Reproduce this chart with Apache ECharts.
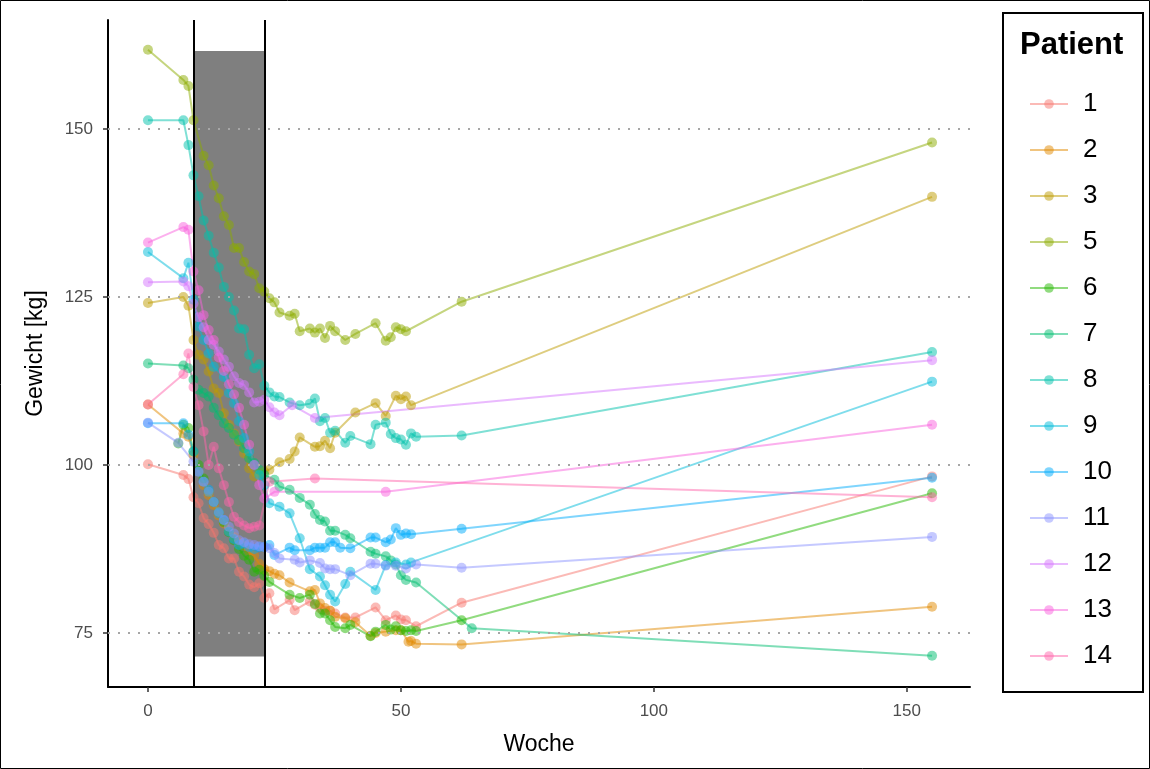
<!DOCTYPE html>
<html><head><meta charset="utf-8">
<script src="https://cdn.jsdelivr.net/npm/echarts@6/dist/echarts.min.js"></script>
<style>html,body{margin:0;padding:0;background:#fff}#c{width:1150px;height:769px}</style>
</head><body><div id="c"></div>
<script>
const patients = ['1','2','3','5','6','7','8','9','10','11','12','13','14'];
const colors = ['#F8766D','#E18A00','#BE9C00','#8CAB00','#24B700','#00BE70','#00C1AB','#00BBDA','#00ACFC','#8B93FF','#D575FE','#F962DD','#FF65AC'];

const p1 = [[0,100.1],[7,98.5],[8,97.9],[9,95.2],[10,94.3],[11,92.1],[12,91.2],[13,89.9],[14,88.1],[15,87.6],[16,86.1],[17,86.1],[18,84.1],[19,83.4],[20,82.2],[21,81.8],[22,82.4],[23,80.2],[24,80.9],[25,78.5],[28,79.9],[29,78.4],[32,79.7],[33,79.2],[34,78.7],[35,78.3],[36,78.3],[37,77.9],[39,77.3],[41,77.3],[45,78.8],[47,76.9],[49,77.6],[50,77.0],[51,76.9],[53,76],[62,79.5],[155,98.3]];
const p2 = [[0,109],[7,104.7],[8,104.2],[9,101.5],[10,99],[11,97],[12,95.5],[13,94],[14,92.5],[15,91.3],[16,90.2],[17,89.3],[18,88.5],[19,88],[20,87.2],[21,86.5],[22,85.3],[23,84.5],[24,84.2],[25,83.8],[26,83.6],[28,82.5],[32,81.2],[33,81.4],[34,79.4],[35,78.7],[36,78.3],[37,77.4],[39,77.2],[41,76.6],[44,74.6],[45,75],[47,75.2],[49,75.4],[50,75.4],[51.5,73.7],[52,73.8],[53,73.4],[62,73.3],[155,78.9]];
const p3 = [[0,124.1],[7,125],[8,123.7],[9,118.6],[10,116.4],[11,115.7],[12,113.9],[13,111.4],[14,110.7],[15,107.7],[16,106],[17,104.7],[18,103.5],[19,101.7],[20,99.5],[21,98.3],[22,98.8],[23,99],[24,99.3],[26,100.4],[28,100.9],[29,102],[30,104.1],[33,102.7],[34,102.8],[35,103.6],[36,102.5],[37,104.8],[41,107.8],[45,109.2],[47,107.3],[49,110.3],[50,109.8],[51,110.2],[52,108.9],[155,139.9]];
const p5 = [[0,161.8],[7,157.3],[8,156.4],[9,151.3],[11,146],[12,144.6],[13,141.6],[14,139.7],[15,137],[16,135.7],[17,132.3],[18,132.3],[19,130.2],[20,128.8],[21,128.4],[22,126.3],[23,125.8],[24,124.8],[25,124.2],[26,122.7],[28,122.2],[29,122.5],[30,119.9],[32,120.3],[33,119.7],[34,120.3],[35,118.9],[36,120.7],[37,119.9],[39,118.6],[41,119.5],[45,121.1],[47,118.5],[48,119],[49,120.5],[50,120.2],[51,119.9],[62,124.3],[155,148]];
const p6 = [[6,103.2],[7,106],[8,105.5],[9,102],[10,100],[11,98],[12,96],[13,94.5],[14,93],[15,91.5],[16,90],[17,88.8],[18,87.5],[19,86.5],[20,85.9],[21,84.1],[22,84.4],[23,83.5],[24,82.6],[28,80.7],[30,80.2],[32,80.7],[33,79.3],[34,77.9],[35,77.9],[36,76.9],[37,75.9],[39,75.7],[40,76.2],[44,74.5],[45,75.2],[47,76.2],[48,75.5],[49,76],[50,75.4],[51,75.3],[52,75.4],[53,75.3],[62,76.9],[155,95.8]];
const p7 = [[0,115.1],[7,114.8],[8,114.4],[9,112.7],[10,111.2],[11,110.7],[12,110.2],[13,108.5],[14,107.4],[15,106.2],[16,105.5],[17,104.5],[18,103.7],[19,102.5],[20,101],[21,100.3],[22,99.3],[23,98.5],[25,97.8],[26,96.8],[28,96.3],[30,95.1],[32,94.1],[33,92.7],[34,91.8],[35,91.6],[36,90.2],[37,90.2],[39,89.6],[40,89.1],[44,87.1],[45,86.8],[47,86.4],[48,85.8],[49,85.2],[50,83.6],[51,82.9],[53,82.5],[64,75.7],[155,71.6]];
const p8 = [[0,151.3],[7,151.3],[8,147.6],[9,143.1],[10,140],[11,136.4],[12,134.1],[13,131.6],[14,129.4],[15,126.5],[16,125],[17,123],[18,120.3],[19,120.2],[20,116.4],[21,114.4],[22,115],[23,111.8],[24,110.8],[25,110.2],[26,110.1],[28,109.3],[30,108.9],[32,109.1],[33,109.9],[34,106.5],[35,107],[36,104.8],[37,105.1],[39,103.3],[40,104.3],[44,103.1],[45,106],[47,106.3],[48,104.6],[49,104],[50,103.8],[51,103],[52,104.7],[53,104.2],[62,104.4],[155,116.8]];
const p9 = [[0,131.7],[7,127.8],[8,130.1],[9,124.6],[10,120.6],[11,118.6],[12,116.6],[13,114.6],[15,113.1],[16,110.7],[17,109.2],[18,106.5],[19,104],[20,102],[21,100],[22,98.5],[23,97],[24,94.3],[26,93.8],[28,92.8],[30,89.1],[32,84.5],[34,83.4],[35,82.1],[36,80.7],[37,79.7],[39,82.3],[40,84.1],[45,81.4],[47,85.1],[49,85.5],[51,85.2],[52,85.5],[155,112.4]];
const p10 = [[0,106.2],[7,106.2],[8,104.5],[9,102],[10,99],[11,97.5],[12,96.3],[13,94.5],[14,92.8],[15,91.8],[16,90.1],[17,89],[18,88.1],[19,88.3],[20,87.8],[21,87.5],[22,87.8],[23,87.8],[24,88.1],[25,86.6],[28,87.7],[29,87.3],[32,87.3],[33,87.7],[34,87.7],[35,87.7],[36,88.5],[37,88.5],[38,87.7],[40,87.6],[44,89.2],[45,89.2],[47,88.5],[48,88.9],[49,90.6],[50,89.6],[51,89.8],[52,89.7],[62,90.5],[155,98.1]];
const p11 = [[0,106.3],[6,103.3],[9,100.5],[10,99],[11,97.5],[12,96],[13,94.5],[14,93],[15,91.8],[16,90.8],[17,89.8],[18,88.8],[19,88.5],[20,88.2],[21,88.1],[22,87.9],[23,87.8],[24,87.6],[25,86.9],[26,86.1],[29,85.9],[30,85.5],[32,85.8],[34,85.4],[35,84.6],[36,84.5],[37,84.5],[40,83.6],[44,85.3],[45,85.3],[47,85.0],[49,85],[51,84.6],[53,85.2],[62,84.7],[155,89.3]];
const p12 = [[0,127.2],[7,127.3],[8,126.6],[9,124],[10,122],[11,120.5],[12,118.6],[13,117.9],[14,116.9],[15,115.7],[16,114.6],[17,113.2],[18,112.2],[19,111.9],[20,110.8],[21,109.3],[22,109.4],[23,109.7],[24,108.6],[25,107.8],[26,107.4],[28.5,108.9],[33,107],[155,115.6]];
const p13 = [[0,133.1],[7,135.4],[8,135],[9,128.8],[10,126],[11,122.3],[12,120.1],[13,118.6],[14,116],[15,114],[16,112],[17,110.5],[18,108.5],[19,106],[20,103],[21,100],[22,97],[23,95],[25,96],[47,96],[155,106]];
const p14 = [[0,109],[7,113.5],[8,116.6],[9,111.6],[10,108.9],[11,105],[12,100],[13,102.7],[14,99.5],[15,97],[16,94.5],[17,92.3],[18,91.5],[19,91],[20,90.6],[21,90.8],[22,91],[24,97.5],[33,98],[155,95.2]];

const xTicks = [0,50,100,150];
const yTicks = [75,100,125,150];
const dietWeeks = [9,23];
const bandKg = [71.5,161.6];

const allData = [p1,p2,p3,p5,p6,p7,p8,p9,p10,p11,p12,p13,p14];
const font = '"Liberation Sans", Arial, sans-serif';
const chart = echarts.init(document.getElementById('c'));

const series = [
  { type:'line', data:[], z:1, silent:true,
    markArea:{silent:true, itemStyle:{color:'#7F7F7F', opacity:1},
      data:[[{xAxis:dietWeeks[0], yAxis:bandKg[0]},{xAxis:dietWeeks[1], yAxis:bandKg[1]}]]} },
  { type:'line', data:[], z:2, silent:true,
    markLine:{silent:true, symbol:'none', label:{show:false}, animation:false,
      lineStyle:{color:'#A6A6A6', type:[2,8], width:2},
      data: yTicks.map(v=>({yAxis:v}))} },
  { type:'line', data:[], z:2, silent:true,
    markLine:{silent:true, symbol:'none', label:{show:false}, animation:false,
      lineStyle:{color:'#000', type:'solid', width:2},
      data: dietWeeks.map(v=>({xAxis:v}))} }
];
patients.forEach((p,i)=>{
  series.push({
    name:p, type:'line', data:allData[i], symbol:'circle', symbolSize:10, showSymbol:true, z:3,
    lineStyle:{width:2, color:colors[i], opacity:0.5},
    itemStyle:{color:colors[i], opacity:0.5, borderWidth:0},
    emphasis:{disabled:true}
  });
});

chart.setOption({
  animation:false,
  backgroundColor:'#fff',
  grid:{left:108, right:180, top:20, bottom:82},
  xAxis:{type:'value', min:-7.9, max:162.5,
    name:'Woche', nameLocation:'middle', nameGap:46,
    nameTextStyle:{fontFamily:font, fontSize:23, color:'#000'},
    axisLine:{onZero:false, lineStyle:{color:'#000', width:2}},
    axisTick:{customValues:xTicks, length:5, lineStyle:{color:'#333', width:1.5}},
    axisLabel:{customValues:xTicks, fontFamily:font, fontSize:17, color:'#4D4D4D', margin:16},
    splitLine:{show:false}},
  yAxis:{type:'value', min:66.96, max:166.22,
    name:'Gewicht [kg]', nameLocation:'middle', nameGap:61,
    nameTextStyle:{fontFamily:font, fontSize:23, color:'#000'},
    axisLine:{show:true, onZero:false, lineStyle:{color:'#000', width:2}},
    axisTick:{show:true, customValues:yTicks, length:5, lineStyle:{color:'#333', width:1.5}},
    axisLabel:{customValues:yTicks, fontFamily:font, fontSize:17, color:'#4D4D4D', margin:15},
    splitLine:{show:false}},
  legend:{orient:'vertical', left:1024, top:86, data:patients,
    itemWidth:38, itemHeight:12, itemGap:20,
    textStyle:{fontFamily:font, fontSize:26, color:'#000', lineHeight:26, padding:[0,0,0,10]}},
  graphic:[
    {type:'rect', shape:{x:0.5,y:0.5,width:1149,height:768}, style:{fill:'none', stroke:'#000', lineWidth:1}, silent:true},
    {type:'rect', shape:{x:1003,y:13,width:140,height:679}, style:{fill:'none', stroke:'#000', lineWidth:2}, silent:true},
    {type:'text', left:1020, top:30, style:{text:'Patient', fontFamily:font, fontSize:31, fontWeight:'bold', fill:'#000'}, silent:true}
  ],
  series:series
});
</script></body></html>
